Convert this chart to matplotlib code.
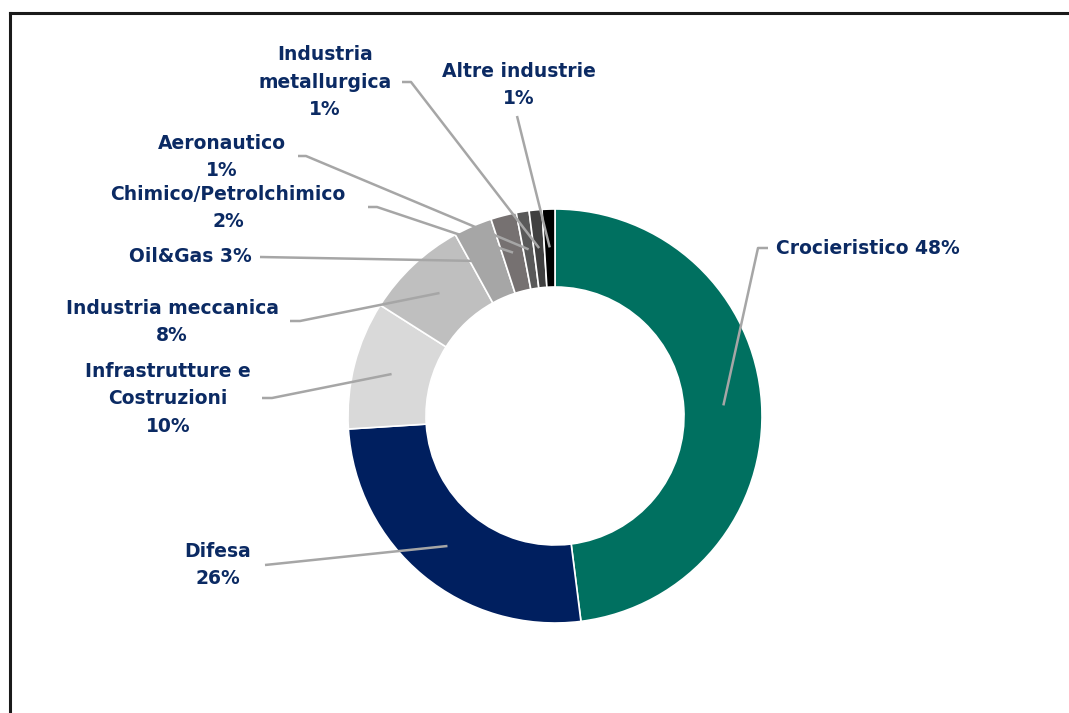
import matplotlib
matplotlib.use("Agg")
from matplotlib import pyplot as plt
import numpy as np

# data
sectors = ["Crocieristico", "Difesa", "Infrastrutture e\nCostruzioni", "Industria meccanica",
           "Oil&Gas", "Chimico/Petrolchimico", "Aeronautico", "Industria\nmetallurgica",
           "Altre industrie"]
shares = [48, 26, 10, 8, 3, 2, 1, 1, 1]
colors = ["#007060", "#001F5F", "#D9D9D9", "#BFBFBF", "#A6A6A6", "#767171", "#595959",
          "#404040", "#000000"]

W, H = 1069, 713
NAVY = "#0B2A63"
LINE = "#A6A6A6"


# flip pixel y (top-down) into data y (bottom-up)
def Y(p_y):
    return H - p_y


# label layout: text anchor (x, y), alignment, label text, leader start (x, y), leader knee x
labels = [
    (776, 248, "left", "Crocieristico 48%", (768, 248), 758),
    (218, 565, "center", "Difesa\n26%", (265, 565), 265),
    (168, 399, "center", "Infrastrutture e\nCostruzioni\n10%", (262, 398), 272),
    (172, 322, "center", "Industria meccanica\n8%", (290, 321), 300),
    (190, 257, "center", "Oil&Gas 3%", (260, 257), 260),
    (228, 208, "center", "Chimico/Petrolchimico\n2%", (368, 207), 377),
    (222, 157, "center", "Aeronautico\n1%", (298, 156), 306),
    (325, 82, "center", "Industria\nmetallurgica\n1%", (402, 82), 411),
    (519, 85, "center", "Altre industrie\n1%", (517, 116), 517),
]

fig = plt.figure(figsize=(W / 100, H / 100), dpi=100)
ax = fig.add_axes([0, 0, 1, 1])

R = 207
wedges, _ = ax.pie(shares, colors=colors, startangle=90, counterclock=False,
                   radius=R, center=(555, Y(416)),
                   wedgeprops=dict(width=R - 129, edgecolor="white", linewidth=1.2))

for w, lab in zip(wedges, labels):
    tx, ty, ha, txt, (sx, sy), kx = lab
    mid = np.deg2rad((w.theta1 + w.theta2) / 2)
    ex = 555 + 0.815 * R * np.cos(mid)
    ey = Y(416) + 0.815 * R * np.sin(mid)
    ax.plot([sx, kx, ex], [Y(sy), Y(sy), ey], color=LINE, lw=1.8, solid_capstyle="butt", zorder=3)
    ax.text(tx, Y(ty), txt, ha=ha, va="center", fontsize=13.5, color=NAVY,
            family="DejaVu Sans", fontweight="bold", linespacing=1.55)

# frame of the original slide box
ax.plot([10, 10], [0, Y(13)], color="#1a1a1a", lw=2.2)
ax.plot([10, W], [Y(13), Y(13)], color="#1a1a1a", lw=2.2)

ax.set_xlim(0, W)
ax.set_ylim(0, H)
ax.set_aspect("equal")
ax.axis("off")

fig.savefig("out.png", dpi=100)
